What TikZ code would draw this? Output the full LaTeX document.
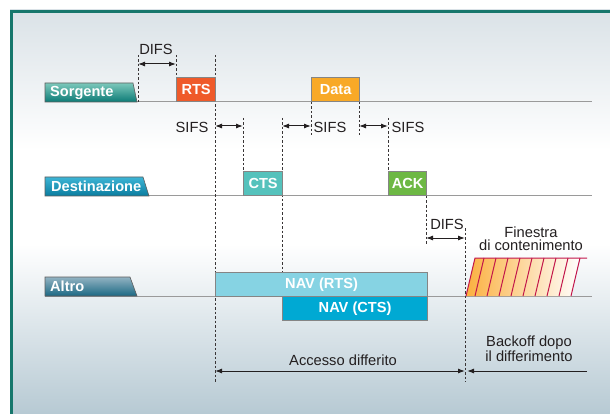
\documentclass[tikz,border=0pt]{standalone}
\usepackage{fontspec}
\setmainfont{Liberation Sans}
\usetikzlibrary{arrows.meta}

\definecolor{frameteal}{HTML}{16776C}
\definecolor{bgtop}{HTML}{DAE2E7}
\definecolor{bgbottom}{HTML}{B6C9D3}
\definecolor{rtscol}{HTML}{EF5A2A}
\definecolor{datacol}{HTML}{F8A927}
\definecolor{ctscol}{HTML}{55C2BC}
\definecolor{ackcol}{HTML}{6DB844}
\definecolor{navrts}{HTML}{86D3E3}
\definecolor{navcts}{HTML}{00A9D3}
\definecolor{boxedge}{HTML}{858585}
\definecolor{tline}{HTML}{9A9A9A}
\definecolor{ink}{HTML}{231F20}
\definecolor{cworange}{HTML}{FBB03F}
\definecolor{cwline}{HTML}{C2154A}
\definecolor{srcA}{HTML}{7CC8BB}
\definecolor{srcB}{HTML}{0C7B76}
\definecolor{dstA}{HTML}{3DB5D6}
\definecolor{dstB}{HTML}{0A7C9E}
\definecolor{othA}{HTML}{92B3C2}
\definecolor{othB}{HTML}{1B6883}

\begin{document}
\begin{tikzpicture}[x=1pt,y=-1pt,
  txt/.style={font=\fontsize{14.7}{16}\selectfont, text=ink, inner sep=0pt},
  boldtxt/.style={font=\bfseries\fontsize{14.6}{16}\selectfont, text=white, inner sep=0pt},
  msgbox/.style={draw=boxedge, line width=1.2pt, inner sep=0pt, minimum height=24pt,
    anchor=south west, font=\bfseries\fontsize{14.6}{16}\selectfont, text=white},
  navbox/.style={draw=boxedge, line width=1.2pt, inner sep=0pt, minimum height=24pt,
    anchor=north west, font=\bfseries\fontsize{14.6}{16}\selectfont, text=white},
  timeline/.style={draw=tline, line width=1pt},
  guide/.style={draw=ink!90, line width=0.8pt, dash pattern=on 2.5pt off 2pt},
  span/.style={draw=ink, line width=1pt, {Latex[length=7pt,width=5pt]}-{Latex[length=7pt,width=5pt]}},
  tabedge/.style={draw=boxedge!70!black, line width=0.6pt},
  cw/.style={draw=cwline, line width=1pt}]

\useasboundingbox (0,0) rectangle (610,414);
\fill[white] (0,0) rectangle (610,414);

% framed panel with soft vertical gradient
\shade[top color=bgtop, bottom color=white] (10,10) rectangle (612,150);
\fill[white] (10,149) rectangle (612,245);
\shade[top color=white, bottom color=bgbottom] (10,244) rectangle (612,416);
\draw[frameteal, line width=3pt] (11.5,416) -- (11.5,11.5) -- (612,11.5);

% time lines of the three stations
\draw[timeline] (45,102) -- (592,102);
\draw[timeline] (45,196) -- (592,196);
\draw[timeline] (45,296) -- (592,296);

% key instants
\coordinate (a1) at (138,55);  \coordinate (a2) at (138,102);
\coordinate (b1) at (176,55);  \coordinate (b2) at (176,78);
\coordinate (c1) at (215,55);  \coordinate (c2) at (215,382);
\coordinate (d1) at (243,118); \coordinate (d2) at (243,172);
\coordinate (e1) at (282,118); \coordinate (e2) at (282,272);
\coordinate (f1) at (311,102); \coordinate (f2) at (311,135);
\coordinate (g1) at (359,102); \coordinate (g2) at (359,135);
\coordinate (h1) at (388,118); \coordinate (h2) at (388,172);
\coordinate (i1) at (426,196); \coordinate (i2) at (426,245);
\coordinate (j1) at (465,228); \coordinate (j2) at (465,382);

\foreach \p in {a,b,c,d,e,f,g,h,i,j}
  \draw[guide] (\p1) -- (\p2);

% frames on the air
\node[msgbox, fill=rtscol, minimum width=39pt] (rts) at (176,102) {RTS};
\node[msgbox, fill=datacol, minimum width=48pt] (data) at (311,102) {Data};
\node[msgbox, fill=ctscol, minimum width=39pt] (cts) at (243,196) {CTS};
\node[msgbox, fill=ackcol, minimum width=38pt] (ack) at (388,196) {ACK};
\node[navbox, fill=navrts, minimum width=212pt] (navrts) at (215,272) {NAV (RTS)};
\node[navbox, fill=navcts, minimum width=145pt] (navcts) at (282,296) {NAV (CTS)};

% station tabs
\shade[top color=srcA, bottom color=srcB, tabedge] (45,102) -- (45,83) -- (133,83) -- (137,102) -- cycle;
\shade[top color=dstA, bottom color=dstB, tabedge] (45,196) -- (45,177) -- (143,177) -- (149,196) -- cycle;
\shade[top color=othA, bottom color=othB, tabedge] (45,296) -- (45,277) -- (130,277) -- (137,296) -- cycle;
\node[boldtxt, anchor=west] (src) at (50,92.5) {Sorgente};
\node[boldtxt, anchor=west] (dst) at (51,186.5) {Destinazione};
\node[boldtxt, anchor=west] (oth) at (50,286.5) {Altro};

% contention window
\shade[left color=cworange, right color=white] (466,296) -- (475,258) -- (580,258) -- (571,296) -- cycle;
\draw[cw] (466,296) -- (475,258) -- (587,258);
\foreach \k in {0,...,8}
  \draw[cw] ({484+12*\k},258) -- ({475+12*\k},296);

% interframe spacings
\coordinate (s1a) at (138,64);  \coordinate (s1b) at (176,64);
\coordinate (s2a) at (215,126); \coordinate (s2b) at (243,126);
\coordinate (s3a) at (282,126); \coordinate (s3b) at (311,126);
\coordinate (s4a) at (359,126); \coordinate (s4b) at (388,126);
\coordinate (s5a) at (426,238); \coordinate (s5b) at (465,238);
\draw[span] (s1a) -- (s1b);
\draw[span] (s2a) -- (s2b);
\draw[span] (s3a) -- (s3b);
\draw[span] (s4a) -- (s4b);
\draw[span] (s5a) -- (s5b);

\node[txt] (difs1) at (156,49) {DIFS};
\node[txt] (sifs1) at (192,127) {SIFS};
\node[txt] (sifs2) at (330,127) {SIFS};
\node[txt] (sifs3) at (408,127) {SIFS};
\node[txt] (difs2) at (447,224) {DIFS};

\node[txt] (fin1) at (531,232) {Finestra};
\node[txt] (fin2) at (531,245.5) {di contenimento};

% deferral and backoff
\coordinate (acc1) at (215,371); \coordinate (acc2) at (465,371);
\coordinate (bk1) at (587,371);  \coordinate (bk2) at (467,371);
\draw[span] (acc1) -- (acc2);
\draw[draw=ink, line width=1pt, -{Latex[length=7pt,width=5pt]}] (bk1) -- (bk2);
\node[txt] (acc) at (343,360) {Accesso differito};
\node[txt] (bo1) at (529,342.5) {Backoff dopo};
\node[txt] (bo2) at (529,356.5) {il differimento};
\end{tikzpicture}
\end{document}
